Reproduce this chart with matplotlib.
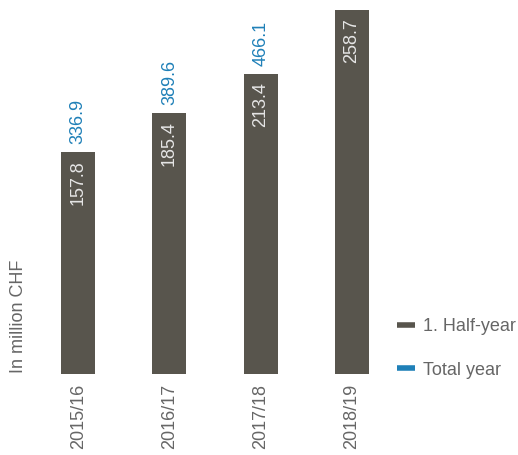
import matplotlib.pyplot as plt
from matplotlib.lines import Line2D

# data
seasons = ['2015/16', '2016/17', '2017/18', '2018/19']
half_year = [157.8, 185.4, 213.4, 258.7]
total_year = [336.9, 389.6, 466.1, None]

bar_color = '#58554d'
blue = '#1f80b8'
grey = '#666666'

plt.rcParams['font.family'] = ['Liberation Sans', 'DejaVu Sans']
fs = 13

W, H = 518, 455
fig = plt.figure(figsize=(W / 100, H / 100), dpi=100)

# axes placed so bars sit where they do in the reference
left_px, right_px = 32.5, 397.5
bottom_px = 374
px_per_unit = 364 / 258.7
ytop = 265
ax = fig.add_axes([left_px / W, (H - bottom_px) / H,
                   (right_px - left_px) / W, ytop * px_per_unit / H])

x = list(range(len(seasons)))
bars = ax.bar(x, half_year, width=0.374, color=bar_color)

ax.set_xlim(-0.5, len(seasons) - 0.5)
ax.set_ylim(0, ytop)
for s in ax.spines.values():
    s.set_visible(False)
ax.set_yticks([])
ax.set_xticks(x)
ax.set_xticklabels(seasons, rotation=90, fontsize=fs, color=grey, va='top')
ax.tick_params(axis='x', length=0, pad=7)

pad_units = 8 / px_per_unit
for xi, h, t in zip(x, half_year, total_year):
    ax.text(xi, h - pad_units, "%.1f" % h, rotation=90, ha='center', va='top',
            fontsize=fs, color='#e6e6e6', clip_on=False)
    if t is not None:
        ax.text(xi, h + pad_units, "%.1f" % t, rotation=90, ha='center', va='bottom',
                fontsize=fs, color=blue, clip_on=False)

fig.text(19 / W, (H - 373) / H, 'In million CHF', rotation=90, ha='center', va='bottom',
         fontsize=fs, color=grey)

handles = [Line2D([], [], color=bar_color, lw=4, solid_capstyle='butt'),
           Line2D([], [], color=blue, lw=4, solid_capstyle='butt')]
leg = fig.legend(handles, ['1. Half-year', 'Total year'], loc='upper left',
                 bbox_to_anchor=(397 / W, (H - 318) / H), frameon=False,
                 fontsize=fs, handlelength=1.0, handletextpad=0.42, labelspacing=1.48,
                 borderpad=0, borderaxespad=0)
for txt in leg.get_texts():
    txt.set_color(grey)

fig.savefig('out.png', dpi=100)
